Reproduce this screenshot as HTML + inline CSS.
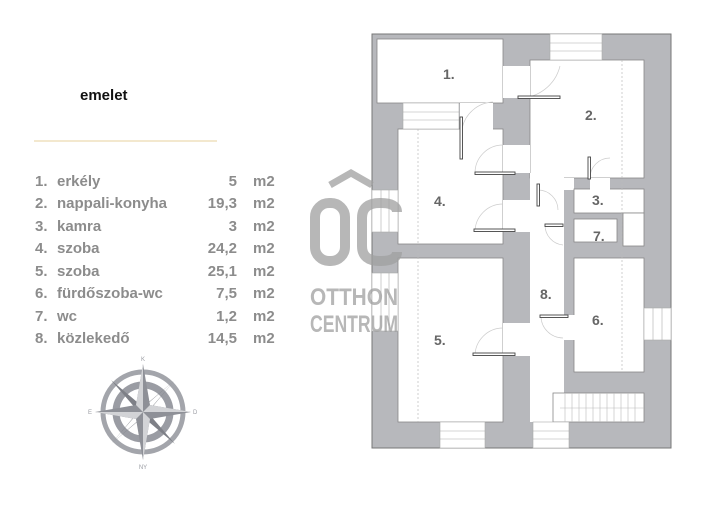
<!DOCTYPE html>
<html><head><meta charset="utf-8"><style>
body{margin:0;width:707px;height:500px;background:#fff;overflow:hidden;font-family:"Liberation Sans",sans-serif}
</style></head><body>
<svg width="707" height="500" viewBox="0 0 707 500" xmlns="http://www.w3.org/2000/svg">
<text x="80" y="100" font-family="Liberation Sans" font-weight="bold" font-size="15" fill="#111">emelet</text>
<line x1="34" y1="141" x2="217" y2="141" stroke="#ecd9b0" stroke-width="1.2"/>
<g font-family="Liberation Sans" font-weight="bold" font-size="15" fill="#8c8c8c">
<text x="35" y="186">1.</text><text x="57" y="186">erkély</text><text x="237" y="186" text-anchor="end">5</text><text x="253" y="186">m2</text>
<text x="35" y="208">2.</text><text x="57" y="208">nappali-konyha</text><text x="237" y="208" text-anchor="end">19,3</text><text x="253" y="208">m2</text>
<text x="35" y="231">3.</text><text x="57" y="231">kamra</text><text x="237" y="231" text-anchor="end">3</text><text x="253" y="231">m2</text>
<text x="35" y="253">4.</text><text x="57" y="253">szoba</text><text x="237" y="253" text-anchor="end">24,2</text><text x="253" y="253">m2</text>
<text x="35" y="276">5.</text><text x="57" y="276">szoba</text><text x="237" y="276" text-anchor="end">25,1</text><text x="253" y="276">m2</text>
<text x="35" y="298">6.</text><text x="57" y="298">fürdőszoba-wc</text><text x="237" y="298" text-anchor="end">7,5</text><text x="253" y="298">m2</text>
<text x="35" y="321">7.</text><text x="57" y="321">wc</text><text x="237" y="321" text-anchor="end">1,2</text><text x="253" y="321">m2</text>
<text x="35" y="343">8.</text><text x="57" y="343">közlekedő</text><text x="237" y="343" text-anchor="end">14,5</text><text x="253" y="343">m2</text>
</g>
<!-- compass -->
<g transform="translate(143,412)" fill="#9a9ca3" stroke="none">
<circle r="40" fill="none" stroke="#a3a5ab" stroke-width="5"/>
<circle r="27" fill="none" stroke="#9a9ca3" stroke-width="7"/>
<polygon points="32,-32 5,0 -32,32 0,5 32,-32 0,-5 -32,32 -5,0" fill="#7e8087"/>
<polygon points="-32,-32 0,-5 32,32 5,0 32,32 0,5 -32,-32 -5,0" fill="#7e8087"/>
<polygon points="0,-48 7,-7 48,0 7,7 0,48 -7,7 -48,0 -7,-7" fill="#8e9097"/>
<polygon points="0,-48 0,0 -7,-7" fill="#d2d3d6"/>
<polygon points="48,0 0,0 7,-7" fill="#d2d3d6"/>
<polygon points="0,48 0,0 7,7" fill="#d2d3d6"/>
<polygon points="-48,0 0,0 -7,7" fill="#d2d3d6"/>
<text x="0" y="-51" font-size="6" text-anchor="middle">K</text>
<text x="0" y="57" font-size="6" text-anchor="middle">NY</text>
<text x="-55" y="2" font-size="6">E</text>
<text x="50" y="2" font-size="6">D</text>
</g>
<!-- plan -->
<rect x="372" y="34" width="299" height="414" fill="#b7b8bc" stroke="#777" stroke-width="1"/>
<g fill="#fff" stroke="#888" stroke-width="0.8">
<rect x="377" y="39" width="126" height="64"/>
<rect x="530" y="60" width="114" height="118"/>
<rect x="503" y="66" width="27" height="32" stroke="none"/>
<rect x="398" y="129" width="105" height="115"/>
<rect x="460" y="103" width="33" height="27" stroke="none"/>
<rect x="503" y="145" width="27" height="28" stroke="none"/>
<rect x="503" y="200" width="27" height="32" stroke="none"/>
<rect x="530" y="173" width="34" height="249" stroke="none"/>
<rect x="564" y="178" width="10" height="12" stroke="none"/>
<rect x="574" y="189" width="70" height="24"/>
<rect x="590" y="178" width="20" height="12" stroke="none"/>
<rect x="574" y="219" width="43" height="23"/>
<rect x="623" y="213" width="21" height="33"/>
<rect x="398" y="258" width="105" height="164"/>
<rect x="503" y="323" width="27" height="33" stroke="none"/>
<rect x="574" y="258" width="70" height="114"/>
<rect x="563" y="315" width="12" height="25" stroke="none"/>
<rect x="553" y="393" width="91" height="29"/>
</g>
<!-- windows -->
<g fill="#fff" stroke="#aaa" stroke-width="0.6">
<rect x="550" y="34" width="52" height="26"/><line x1="550" y1="43" x2="602" y2="43"/><line x1="550" y1="51" x2="602" y2="51"/>
<rect x="403" y="103" width="56" height="26"/><line x1="403" y1="112" x2="459" y2="112"/><line x1="403" y1="120" x2="459" y2="120"/>
<rect x="372" y="190" width="26" height="42"/><line x1="381" y1="190" x2="381" y2="232"/><line x1="389" y1="190" x2="389" y2="232"/>
<rect x="372" y="273" width="26" height="58"/><line x1="381" y1="273" x2="381" y2="331"/><line x1="389" y1="273" x2="389" y2="331"/>
<rect x="644" y="308" width="27" height="32"/><line x1="653" y1="308" x2="653" y2="340"/><line x1="662" y1="308" x2="662" y2="340"/>
<rect x="440" y="422" width="45" height="26"/><line x1="440" y1="431" x2="485" y2="431"/><line x1="440" y1="439" x2="485" y2="439"/>
<rect x="533" y="422" width="36" height="26"/><line x1="533" y1="431" x2="569" y2="431"/><line x1="533" y1="439" x2="569" y2="439"/>
</g>
<!-- stairs -->
<g stroke="#bbb" stroke-width="0.6">
<line x1="560" y1="408" x2="644" y2="408"/>
<line x1="565" y1="393" x2="565" y2="422"/><line x1="572" y1="393" x2="572" y2="422"/><line x1="579" y1="393" x2="579" y2="422"/><line x1="586" y1="393" x2="586" y2="422"/><line x1="593" y1="393" x2="593" y2="422"/><line x1="600" y1="393" x2="600" y2="422"/><line x1="607" y1="393" x2="607" y2="422"/><line x1="614" y1="393" x2="614" y2="422"/><line x1="621" y1="393" x2="621" y2="422"/><line x1="628" y1="393" x2="628" y2="422"/><line x1="635" y1="393" x2="635" y2="422"/>
</g>
<g stroke="#bbb" stroke-width="0.7" stroke-dasharray="2,2">
<line x1="418" y1="129" x2="418" y2="422"/>
<line x1="622" y1="60" x2="622" y2="372"/>
</g>
<!-- doors -->
<g fill="none" stroke="#ccc" stroke-width="0.7">
<path d="M518,98 A42,42 0 0 0 560,66"/>
<path d="M462,129 A33,33 0 0 1 493,102"/>
<path d="M475,173 A28,28 0 0 1 503,145"/>
<path d="M475,232 A28,28 0 0 1 503,204"/>
<path d="M590,178 A20,20 0 0 1 610,158"/>
<path d="M538,190 A20,20 0 0 1 558,210"/>
<path d="M545,225 A20,20 0 0 0 563,245"/>
<path d="M475,356 A28,28 0 0 1 503,328"/>
<path d="M541,316 A22,22 0 0 0 563,338"/>
</g>
<g fill="#fff" stroke="#444" stroke-width="0.9">
<rect x="518" y="96" width="42" height="2.5"/>
<rect x="460" y="117" width="2.5" height="42"/>
<rect x="475" y="172" width="40" height="2.5"/>
<rect x="474" y="229" width="41" height="2.5"/>
<rect x="588" y="157" width="2.5" height="22"/>
<rect x="537" y="184" width="2.5" height="22"/>
<rect x="545" y="224" width="18" height="2.5"/>
<rect x="473" y="353" width="42" height="2.5"/>
<rect x="540" y="315" width="28" height="2.5"/>
</g>
<g font-family="Liberation Sans" font-weight="bold" font-size="14" fill="#666">
<text x="443" y="79">1.</text><text x="585" y="120">2.</text><text x="592" y="205">3.</text>
<text x="434" y="206">4.</text><text x="434" y="345">5.</text><text x="592" y="325">6.</text>
<text x="593" y="241">7.</text><text x="540" y="299">8.</text>
</g>
<!-- logo -->
<g opacity="0.75" fill="#a0a0a0">
<path d="M330,185 L351,173 L372,185" fill="none" stroke="#a0a0a0" stroke-width="7"/>
<rect x="315" y="203" width="30" height="58" rx="14" fill="none" stroke="#a0a0a0" stroke-width="10"/>
<path d="M397,212 Q397,203 380,203 Q362,203 362,218 L362,246 Q362,261 380,261 Q397,261 397,252" fill="none" stroke="#a0a0a0" stroke-width="10"/>
<text x="310" y="305" font-family="Liberation Sans" font-weight="bold" font-size="24" textLength="88" lengthAdjust="spacingAndGlyphs">OTTHON</text>
<text x="310" y="332" font-family="Liberation Sans" font-weight="bold" font-size="24" textLength="88" lengthAdjust="spacingAndGlyphs">CENTRUM</text>
</g>
</svg>
</body></html>
